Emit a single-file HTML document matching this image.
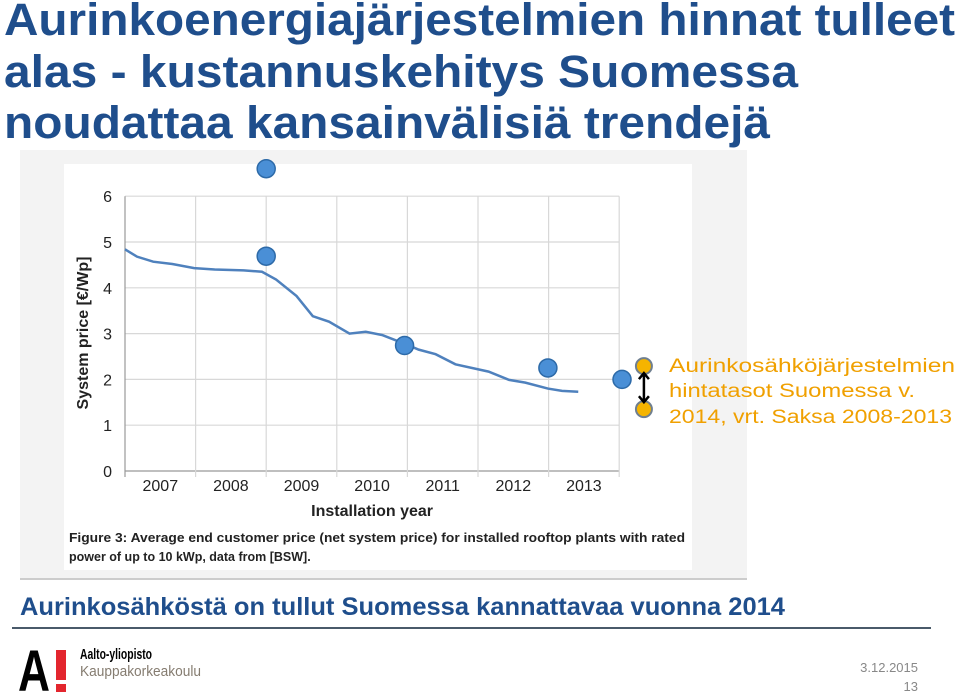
<!DOCTYPE html>
<html><head><meta charset="utf-8"><style>
html,body{margin:0;padding:0;background:#fff;width:959px;height:694px;overflow:hidden}
svg{display:block;font-family:"Liberation Sans",sans-serif}
</style></head><body>
<svg id="s" width="959" height="694" viewBox="0 0 959 694">
<g fill="#1f4e8c" font-weight="bold" font-size="45">
<text x="4" y="35" textLength="951" lengthAdjust="spacingAndGlyphs">Aurinkoenergiajärjestelmien hinnat tulleet</text>
<text x="4" y="87" textLength="794" lengthAdjust="spacingAndGlyphs">alas - kustannuskehitys Suomessa</text>
<text x="4" y="138" textLength="766" lengthAdjust="spacingAndGlyphs">noudattaa kansainvälisiä trendejä</text>
</g>
<rect x="20" y="150" width="727" height="430" fill="#f3f3f3"/>
<rect x="64" y="164" width="628" height="406" fill="#fff"/>
<line x1="20" y1="579" x2="747" y2="579" stroke="#ccc" stroke-width="2"/>
<g id="chart"></g>
<g fill="#f0a000" font-size="19">
<text x="669" y="372" textLength="286" lengthAdjust="spacingAndGlyphs">Aurinkosähköjärjestelmien</text>
<text x="669" y="397" textLength="246" lengthAdjust="spacingAndGlyphs">hintatasot Suomessa v.</text>
<text x="669" y="423" textLength="283" lengthAdjust="spacingAndGlyphs">2014, vrt. Saksa 2008-2013</text>
</g>
<text x="20" y="615" font-size="25" font-weight="bold" fill="#1f4e8c" textLength="765" lengthAdjust="spacingAndGlyphs">Aurinkosähköstä on tullut Suomessa kannattavaa vuonna 2014</text>
<line x1="12" y1="628" x2="931" y2="628" stroke="#4a5a6a" stroke-width="2"/>
<g>
<text x="18" y="691" font-size="58" font-weight="bold" fill="#000" textLength="32" lengthAdjust="spacingAndGlyphs">A</text>
<rect x="56" y="650" width="10" height="30" fill="#e3262e"/>
<rect x="56" y="684" width="10" height="8" fill="#e3262e"/>
<text x="80" y="659" font-size="15" font-weight="bold" fill="#000" textLength="72" lengthAdjust="spacingAndGlyphs">Aalto-yliopisto</text>
<text x="80" y="676" font-size="15" fill="#857c70" textLength="121" lengthAdjust="spacingAndGlyphs">Kauppakorkeakoulu</text>
</g>
<text x="918" y="672" font-size="13" fill="#888" text-anchor="end">3.12.2015</text>
<text x="918" y="691" font-size="13" fill="#888" text-anchor="end">13</text>
</svg>
<script>
const yearLabels=["2007","2008","2009","2010","2011","2012","2013"];
const yTicks=[0,1,2,3,4,5,6];
const lineT=[0,0.17,0.4,0.67,0.98,1.27,1.68,1.94,2.14,2.43,2.66,2.89,3.18,3.41,3.64,3.99,4.16,4.4,4.68,5.15,5.44,5.67,5.99,6.19,6.42];
const lineV=[4.84,4.68,4.57,4.52,4.43,4.40,4.38,4.35,4.18,3.82,3.38,3.26,3.00,3.04,2.97,2.76,2.65,2.55,2.33,2.17,1.99,1.93,1.80,1.75,1.73];
const blueT=[2.0,2.0,3.96,5.99,7.04];
const blueV=[6.6,4.69,2.74,2.25,2.0];
const orangeT=[7.35,7.35];
const orangeV=[2.29,1.35];
const NS="http://www.w3.org/2000/svg";
const g=document.getElementById('chart');
const X=t=>125+t*70.6, Y=v=>471-v*45.8;
function el(tag,a){const e=document.createElementNS(NS,tag);for(const k in a)e.setAttribute(k,a[k]);g.appendChild(e);return e;}
yTicks.forEach(v=>{
 const l=el('line',{x1:X(0),x2:X(7),y1:Y(v),y2:Y(v),stroke:v==0?'#999':'#d8d8d8','stroke-width':1.2});
 
 
 const t=el('text',{x:X(0)-13,y:Y(v)+6,'font-size':16,'text-anchor':'end',fill:'#222'});t.textContent=v;
 
 
});
for(let i=0;i<=7;i++){
 const l=el('line',{x1:X(i),x2:X(i),y1:Y(6),y2:Y(0)+6,stroke:i==0?'#999':'#d8d8d8','stroke-width':1.2});
 
 
}
yearLabels.forEach((y,i)=>{
 const t=el('text',{x:X(i+0.5),y:491,'font-size':16,'text-anchor':'middle',fill:'#222'});t.textContent=y;
 
 
});
let t=el('text',{x:X(3.5),y:516,'font-size':16,'font-weight':'bold','text-anchor':'middle',fill:'#222'});t.textContent='Installation year';


t=el('text',{transform:'translate(88,333) rotate(-90)','font-size':16,'font-weight':'bold','text-anchor':'middle',fill:'#222'});t.textContent='System price [€/Wp]';


t=el('text',{x:69,y:542,'font-size':12.5,'font-weight':'bold',fill:'#222',textLength:616,lengthAdjust:'spacingAndGlyphs'});t.textContent='Figure 3: Average end customer price (net system price) for installed rooftop plants with rated';


t=el('text',{x:69,y:561,'font-size':12.5,'font-weight':'bold',fill:'#222'});t.textContent='power of up to 10 kWp, data from [BSW].';


const p=el('polyline',{points:lineT.map((x,i)=>X(x)+','+Y(lineV[i])).join(' '),fill:'none',stroke:'#4f81bd','stroke-width':2.5});


blueT.forEach((x,i)=>{
 const c=el('circle',{cx:X(x),cy:Y(blueV[i]),r:9,fill:'#4a8fd6',stroke:'#2d6aa8','stroke-width':1.5});
 
 
});
orangeT.forEach((x,i)=>{
 const c=el('circle',{cx:X(x),cy:Y(orangeV[i]),r:8,fill:'#f5b400',stroke:'#6f7f90','stroke-width':2});
 
 
});
const ax=X(orangeT[0]);
const a=el('path',{d:`M${ax},${Y(orangeV[0])+7} L${ax},${Y(orangeV[1])-7} M${ax-5},${Y(orangeV[0])+13} L${ax},${Y(orangeV[0])+7} L${ax+5},${Y(orangeV[0])+13} M${ax-5},${Y(orangeV[1])-13} L${ax},${Y(orangeV[1])-7} L${ax+5},${Y(orangeV[1])-13}`,stroke:'#000','stroke-width':2.5,fill:'none'});


</script>
</body></html>
